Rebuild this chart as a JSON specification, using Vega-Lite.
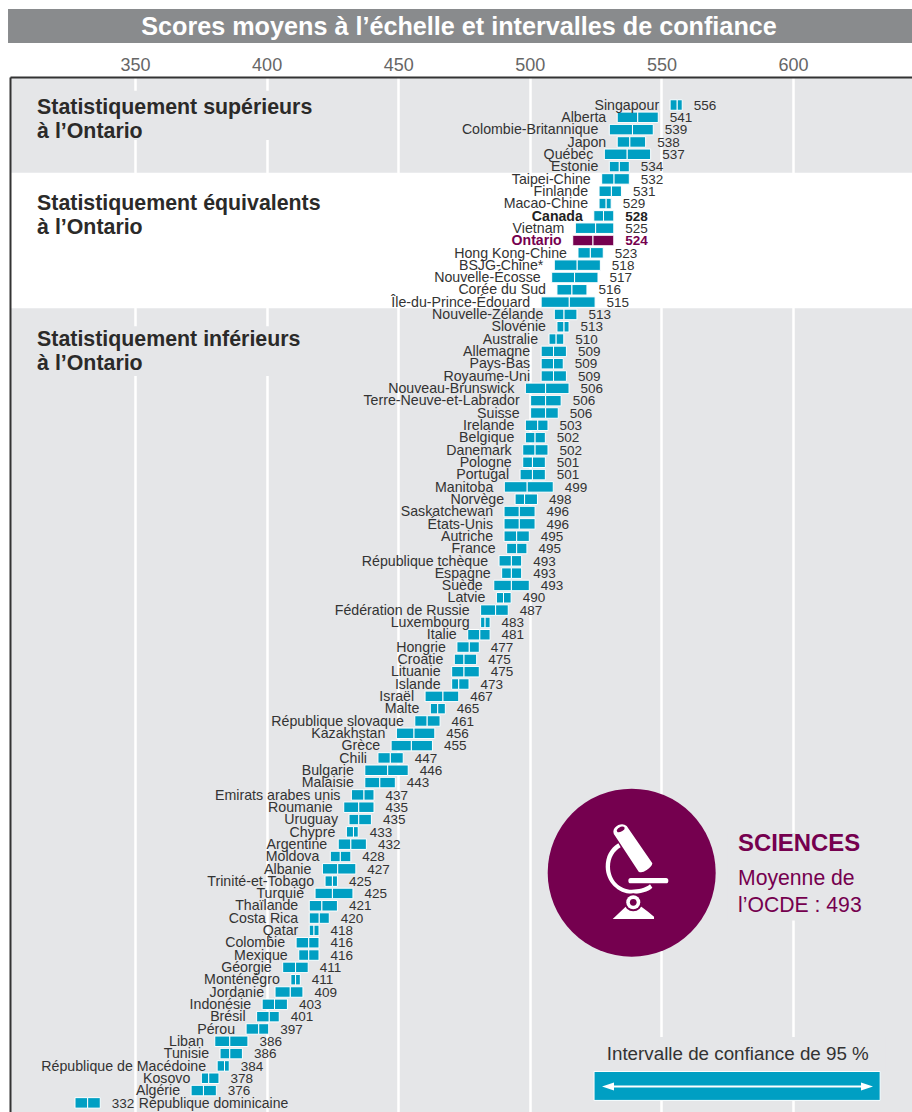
{
"$schema":"https://vega.github.io/schema/vega-lite/v6.json",
"width":902,"height":1035,
"autosize":{"type":"none"},
"padding":{"left":10,"top":77,"right":0,"bottom":0},
"background":"white",
"view":{"fill":"#e5e6e8","stroke":null},
"config":{"font":"Liberation Sans"},
"title":{"text":"Scores moyens à l’échelle et intervalles de confiance","font":"Liberation Sans","fontSize":25.2,"fontWeight":"bold","color":"white","anchor":"middle","frame":"group","offset":-31,"dx":-2},
"datasets":{
"pays":[
{"rang":1,"pays":"Singapour","score":556,"bas":553.3,"haut":557.9},
{"rang":2,"pays":"Alberta","score":541,"bas":533.2,"haut":548.8},
{"rang":3,"pays":"Colombie-Britannique","score":539,"bas":530.2,"haut":546.9},
{"rang":4,"pays":"Japon","score":538,"bas":533.2,"haut":544.0},
{"rang":5,"pays":"Québec","score":537,"bas":528.3,"haut":545.9},
{"rang":6,"pays":"Estonie","score":534,"bas":530.2,"haut":537.8},
{"rang":7,"pays":"Taipei-Chine","score":532,"bas":527.3,"haut":537.8},
{"rang":8,"pays":"Finlande","score":531,"bas":526.3,"haut":534.8},
{"rang":9,"pays":"Macao-Chine","score":529,"bas":526.3,"haut":530.9},
{"rang":10,"pays":"Canada","score":528,"bas":524.3,"haut":531.9},
{"rang":11,"pays":"Vietnam","score":525,"bas":517.3,"haut":531.9},
{"rang":12,"pays":"Ontario","score":524,"bas":516.3,"haut":531.9},
{"rang":13,"pays":"Hong Kong-Chine","score":523,"bas":518.3,"haut":527.9},
{"rang":14,"pays":"BSJG-Chine*","score":518,"bas":509.3,"haut":526.8},
{"rang":15,"pays":"Nouvelle-Écosse","score":517,"bas":508.3,"haut":525.9},
{"rang":16,"pays":"Corée du Sud","score":516,"bas":510.3,"haut":521.7},
{"rang":17,"pays":"Île-du-Prince-Édouard","score":515,"bas":504.3,"haut":524.8},
{"rang":18,"pays":"Nouvelle-Zélande","score":513,"bas":509.3,"haut":517.9},
{"rang":19,"pays":"Slovénie","score":513,"bas":510.3,"haut":514.9},
{"rang":20,"pays":"Australie","score":510,"bas":507.3,"haut":512.9},
{"rang":21,"pays":"Allemagne","score":509,"bas":504.3,"haut":513.9},
{"rang":22,"pays":"Pays-Bas","score":509,"bas":504.3,"haut":512.7},
{"rang":23,"pays":"Royaume-Uni","score":509,"bas":504.3,"haut":513.9},
{"rang":24,"pays":"Nouveau-Brunswick","score":506,"bas":498.3,"haut":514.9},
{"rang":25,"pays":"Terre-Neuve-et-Labrador","score":506,"bas":500.3,"haut":511.9},
{"rang":26,"pays":"Suisse","score":506,"bas":500.3,"haut":510.8},
{"rang":27,"pays":"Irelande","score":503,"bas":498.3,"haut":506.9},
{"rang":28,"pays":"Belgique","score":502,"bas":498.3,"haut":505.9},
{"rang":29,"pays":"Danemark","score":502,"bas":497.3,"haut":506.9},
{"rang":30,"pays":"Pologne","score":501,"bas":497.3,"haut":505.9},
{"rang":31,"pays":"Portugal","score":501,"bas":496.3,"haut":505.9},
{"rang":32,"pays":"Manitoba","score":499,"bas":490.3,"haut":508.9},
{"rang":33,"pays":"Norvège","score":498,"bas":494.4,"haut":502.9},
{"rang":34,"pays":"Saskatchewan","score":496,"bas":490.2,"haut":502.0},
{"rang":35,"pays":"États-Unis","score":496,"bas":490.2,"haut":502.0},
{"rang":36,"pays":"Autriche","score":495,"bas":490.2,"haut":499.8},
{"rang":37,"pays":"France","score":495,"bas":491.2,"haut":498.9},
{"rang":38,"pays":"République tchèque","score":493,"bas":488.3,"haut":496.9},
{"rang":39,"pays":"Espagne","score":493,"bas":489.3,"haut":496.9},
{"rang":40,"pays":"Suède","score":493,"bas":486.3,"haut":499.8},
{"rang":41,"pays":"Latvie","score":490,"bas":487.3,"haut":492.9},
{"rang":42,"pays":"Fédération de Russie","score":487,"bas":481.3,"haut":491.8},
{"rang":43,"pays":"Luxembourg","score":483,"bas":481.3,"haut":484.9},
{"rang":44,"pays":"Italie","score":481,"bas":476.4,"haut":484.9},
{"rang":45,"pays":"Hongrie","score":477,"bas":472.3,"haut":480.8},
{"rang":46,"pays":"Croatie","score":475,"bas":471.3,"haut":479.8},
{"rang":47,"pays":"Lituanie","score":475,"bas":470.3,"haut":480.8},
{"rang":48,"pays":"Islande","score":473,"bas":470.3,"haut":476.9},
{"rang":49,"pays":"Israël","score":467,"bas":460.2,"haut":473.0},
{"rang":50,"pays":"Malte","score":465,"bas":462.2,"haut":467.9},
{"rang":51,"pays":"République slovaque","score":461,"bas":456.3,"haut":465.9},
{"rang":52,"pays":"Kazakhstan","score":456,"bas":449.3,"haut":463.9},
{"rang":53,"pays":"Grèce","score":455,"bas":447.3,"haut":463.0},
{"rang":54,"pays":"Chili","score":447,"bas":442.3,"haut":451.9},
{"rang":55,"pays":"Bulgarie","score":446,"bas":437.3,"haut":453.8},
{"rang":56,"pays":"Malaisie","score":443,"bas":437.3,"haut":448.9},
{"rang":57,"pays":"Emirats arabes unis","score":437,"bas":432.2,"haut":440.8},
{"rang":58,"pays":"Roumanie","score":435,"bas":429.3,"haut":440.8},
{"rang":59,"pays":"Uruguay","score":435,"bas":431.3,"haut":439.8},
{"rang":60,"pays":"Chypre","score":433,"bas":430.3,"haut":434.8},
{"rang":61,"pays":"Argentine","score":432,"bas":427.2,"haut":437.9},
{"rang":62,"pays":"Moldova","score":428,"bas":424.2,"haut":432.0},
{"rang":63,"pays":"Albanie","score":427,"bas":421.2,"haut":433.9},
{"rang":64,"pays":"Trinité-et-Tobago","score":425,"bas":422.2,"haut":426.9},
{"rang":65,"pays":"Turquie","score":425,"bas":418.4,"haut":432.8},
{"rang":66,"pays":"Thaïlande","score":421,"bas":416.2,"haut":426.9},
{"rang":67,"pays":"Costa Rica","score":420,"bas":416.2,"haut":423.8},
{"rang":68,"pays":"Qatar","score":418,"bas":416.2,"haut":419.9},
{"rang":69,"pays":"Colombie","score":416,"bas":411.2,"haut":419.9},
{"rang":70,"pays":"Mexique","score":416,"bas":412.2,"haut":419.9},
{"rang":71,"pays":"Géorgie","score":411,"bas":406.1,"haut":415.8},
{"rang":72,"pays":"Monténégro","score":411,"bas":409.2,"haut":412.8},
{"rang":73,"pays":"Jordanie","score":409,"bas":403.2,"haut":413.8},
{"rang":74,"pays":"Indonésie","score":403,"bas":398.3,"haut":407.9},
{"rang":75,"pays":"Brésil","score":401,"bas":396.2,"haut":404.8},
{"rang":76,"pays":"Pérou","score":397,"bas":392.2,"haut":400.8},
{"rang":77,"pays":"Liban","score":386,"bas":380.3,"haut":392.9},
{"rang":78,"pays":"Tunisie","score":386,"bas":382.3,"haut":390.8},
{"rang":79,"pays":"République de Macédoine","score":384,"bas":381.2,"haut":385.8},
{"rang":80,"pays":"Kosovo","score":378,"bas":375.2,"haut":381.9},
{"rang":81,"pays":"Algérie","score":376,"bas":371.3,"haut":380.9},
{"rang":82,"pays":"République dominicaine","score":332,"bas":327.2,"haut":336.8}
],
"zones":[
{"nom":"équivalents","xa":302.5,"xb":645.2,"ra":6.5,"rb":17.5,"couleur":"blanc"},
{"nom":"masque supérieurs","xa":306,"xb":420,"ra":-0.15,"rb":3.85,"couleur":"gris"},
{"nom":"masque inférieurs","xa":306,"xb":420,"ra":18.95,"rb":23,"couleur":"gris"},
{"nom":"masque sciences","xa":575,"xb":625,"ra":60.1,"rb":67.2,"couleur":"gris"},
{"nom":"masque légende","xa":522.9,"xb":635,"ra":76.65,"rb":79.45,"couleur":"gris"},
{"nom":"masque 500","xa":498,"xb":503,"ra":33.5,"rb":41,"couleur":"gris"}
],
"groupes":[
{"texte":"Statistiquement supérieurs\nà l’Ontario","x":312.8,"rang":1.73},
{"texte":"Statistiquement équivalents\nà l’Ontario","x":312.8,"rang":9.52},
{"texte":"Statistiquement inférieurs\nà l’Ontario","x":312.8,"rang":20.56}
],
"icone":[{"x":538.7,"rang":63.31}],
"pivot":[{"x":539.3,"rang":65.72}]
},
"layer":[
{"data":{"name":"zones"},
 "mark":{"type":"rect","strokeWidth":0},
 "encoding":{
  "x":{"field":"xa","type":"quantitative","scale":{"domain":[302.5,645.2],"nice":false,"zero":false,"padding":0},
   "axis":{"orient":"top","title":null,"values":[350,400,450,500,550,600],"grid":true,"gridColor":"white","gridWidth":2.5,"gridOpacity":1,"ticks":false,"labelFont":"Liberation Sans","labelFontSize":18,"labelColor":"#666666","labelPadding":3,"domain":true,"domainColor":"#333333","domainWidth":2,"zindex":0}},
  "x2":{"field":"xb"},
  "y":{"field":"ra","type":"quantitative","scale":{"domain":[-1.273,82.74],"nice":false,"zero":false,"reverse":true,"padding":0},
   "axis":{"title":null,"labels":false,"ticks":false,"grid":false,"domain":true,"domainColor":"#333333","domainWidth":2,"zindex":1}},
  "y2":{"field":"rb"},
  "color":{"field":"couleur","type":"nominal","scale":{"domain":["blanc","gris"],"range":["#ffffff","#e5e6e8"]},"legend":null}
 }},
{"data":{"values":[{"xa":301.75,"xb":645.2,"ra":-6.79,"rb":-4.03,"bande":"titre"}]},
 "mark":{"type":"rect","color":"#898b8d","strokeWidth":0},
 "encoding":{"x":{"field":"xa","type":"quantitative"},"x2":{"field":"xb"},"y":{"field":"ra","type":"quantitative"},"y2":{"field":"rb"}}},
{"data":{"name":"pays"},
 "mark":{"type":"bar","size":10.5,"stroke":"white","strokeWidth":1},
 "encoding":{"x":{"field":"bas","type":"quantitative"},"x2":{"field":"score"},"y":{"field":"rang","type":"quantitative"},
  "color":{"condition":{"test":"datum.pays==='Ontario'","value":"#75004f"},"value":"#009fc3"}}},
{"data":{"name":"pays"},
 "mark":{"type":"bar","size":10.5,"stroke":"white","strokeWidth":1},
 "encoding":{"x":{"field":"score","type":"quantitative"},"x2":{"field":"haut"},"y":{"field":"rang","type":"quantitative"},
  "color":{"condition":{"test":"datum.pays==='Ontario'","value":"#75004f"},"value":"#009fc3"}}},
{"data":{"name":"pays"},
 "transform":[{"filter":"datum.rang<82 && datum.pays!=='Canada' && datum.pays!=='Ontario'"}],
 "mark":{"type":"text","align":"right","baseline":"middle","dx":-11,"dy":0.7,"fontSize":14.2,"color":"#333333","font":"Liberation Sans"},
 "encoding":{"x":{"field":"bas","type":"quantitative"},"y":{"field":"rang","type":"quantitative"},"text":{"field":"pays"}}},
{"data":{"name":"pays"},
 "transform":[{"filter":"datum.pays!=='Canada' && datum.pays!=='Ontario'"}],
 "mark":{"type":"text","align":"left","baseline":"middle","dx":11.5,"dy":0.7,"fontSize":13.5,"color":"#333333","font":"Liberation Sans"},
 "encoding":{"x":{"field":"haut","type":"quantitative"},"y":{"field":"rang","type":"quantitative"},"text":{"field":"score"}}},
{"data":{"name":"pays"},
 "transform":[{"filter":"datum.rang===82"}],
 "mark":{"type":"text","align":"left","baseline":"middle","dx":38.5,"dy":0.7,"fontSize":14,"color":"#333333","font":"Liberation Sans"},
 "encoding":{"x":{"field":"haut","type":"quantitative"},"y":{"field":"rang","type":"quantitative"},"text":{"field":"pays"}}},
{"data":{"name":"pays"},
 "transform":[{"filter":"datum.pays==='Canada' || datum.pays==='Ontario'"}],
 "mark":{"type":"text","align":"right","baseline":"middle","dx":-11,"dy":0.7,"fontSize":14.1,"fontWeight":"bold","font":"Liberation Sans"},
 "encoding":{"x":{"field":"bas","type":"quantitative"},"y":{"field":"rang","type":"quantitative"},"text":{"field":"pays"},
  "color":{"condition":{"test":"datum.pays==='Ontario'","value":"#75004f"},"value":"#222222"}}},
{"data":{"name":"pays"},
 "transform":[{"filter":"datum.pays==='Canada' || datum.pays==='Ontario'"}],
 "mark":{"type":"text","align":"left","baseline":"middle","dx":11.5,"dy":0.7,"fontSize":13.5,"fontWeight":"bold","font":"Liberation Sans"},
 "encoding":{"x":{"field":"haut","type":"quantitative"},"y":{"field":"rang","type":"quantitative"},"text":{"field":"score"},
  "color":{"condition":{"test":"datum.pays==='Ontario'","value":"#75004f"},"value":"#222222"}}},
{"data":{"name":"groupes"},
 "mark":{"type":"text","align":"left","baseline":"alphabetic","fontSize":21.35,"fontWeight":"bold","color":"#2b2a29","lineBreak":"\n","lineHeight":24,"font":"Liberation Sans"},
 "encoding":{"x":{"field":"x","type":"quantitative"},"y":{"field":"rang","type":"quantitative"},"text":{"field":"texte"}}},
{"data":{"name":"icone"},
 "mark":{"type":"point","shape":"circle","filled":true,"size":28224,"color":"#75004f","opacity":1,"strokeWidth":0},
 "encoding":{"x":{"field":"x","type":"quantitative"},"y":{"field":"rang","type":"quantitative"}}},
{"data":{"name":"icone"},
 "mark":{"type":"point","filled":true,"size":0.4444,"color":"white","opacity":1,"strokeWidth":0,
  "shape":"M-55,-123 Q-55,-135 -40,-143 Q-25,-149 -15,-140 L62,-28 Q61,-18 45,-8 Q30,3 21,-3 L-50,-111 Q-55,-117 -55,-123 Z M-40,-88 C-65,-73 -78,-48 -78,-18 C-78,27 -40,63 0,63 C25,63 50,57 62,45 L55,35 C40,47 20,51 0,51 C-35,51 -65,22 -65,-18 C-65,-43 -53,-65 -33,-76 Z M-3,16 L103,16 Q110,16 110,24 Q110,32 103,32 L-3,32 Q-10,32 -10,24 Q-10,16 -3,16 Z M-57,139 L-15,99 L25,99 Q50,117 67,132 L67,139 Z"},
 "encoding":{"x":{"field":"x","type":"quantitative"},"y":{"field":"rang","type":"quantitative"}}},
{"data":{"name":"icone"},
 "mark":{"type":"point","filled":true,"size":0.4444,"color":"#75004f","opacity":1,"strokeWidth":0,
  "shape":"M-45,-127 Q-42,-135 -33,-138 Q-24,-140 -21,-135 Q-20,-129 -28,-125 Q-38,-120 -43,-122 Z"},
 "encoding":{"x":{"field":"x","type":"quantitative"},"y":{"field":"rang","type":"quantitative"}}},
{"data":{"name":"pivot"},
 "mark":{"type":"point","shape":"circle","filled":true,"size":324,"color":"#75004f","opacity":1,"strokeWidth":0},
 "encoding":{"x":{"field":"x","type":"quantitative"},"y":{"field":"rang","type":"quantitative"}}},
{"data":{"name":"pivot"},
 "mark":{"type":"point","shape":"circle","filled":true,"size":196,"color":"white","opacity":1,"strokeWidth":0},
 "encoding":{"x":{"field":"x","type":"quantitative"},"y":{"field":"rang","type":"quantitative"}}},
{"data":{"name":"pivot"},
 "mark":{"type":"point","shape":"circle","filled":true,"size":45,"color":"#75004f","opacity":1,"strokeWidth":0},
 "encoding":{"x":{"field":"x","type":"quantitative"},"y":{"field":"rang","type":"quantitative"}}},
{"data":{"values":[{"texte":"SCIENCES","x":579.1,"rang":61.55}]},
 "mark":{"type":"text","align":"left","baseline":"alphabetic","fontSize":23.9,"fontWeight":"bold","color":"#75004f","font":"Liberation Sans"},
 "encoding":{"x":{"field":"x","type":"quantitative"},"y":{"field":"rang","type":"quantitative"},"text":{"field":"texte"}}},
{"data":{"values":[{"texte":"Moyenne de","x":579.1,"rang":64.31},{"texte":"l’OCDE : 493","x":579.1,"rang":66.53}]},
 "mark":{"type":"text","align":"left","baseline":"alphabetic","fontSize":21.2,"color":"#75004f","font":"Liberation Sans"},
 "encoding":{"x":{"field":"x","type":"quantitative"},"y":{"field":"rang","type":"quantitative"},"text":{"field":"texte"}}},
{"data":{"values":[{"texte":"Intervalle de confiance de 95 %","x":579,"rang":78.5}]},
 "mark":{"type":"text","align":"center","baseline":"alphabetic","fontSize":18.8,"color":"#333333","font":"Liberation Sans"},
 "encoding":{"x":{"field":"x","type":"quantitative"},"y":{"field":"rang","type":"quantitative"},"text":{"field":"texte"}}},
{"data":{"values":[{"xa":524.4,"xb":633.1,"ra":79.45,"rb":81.8}]},
 "mark":{"type":"rect","color":"#009fc3","stroke":"white","strokeWidth":1},
 "encoding":{"x":{"field":"xa","type":"quantitative"},"x2":{"field":"xb"},"y":{"field":"ra","type":"quantitative"},"y2":{"field":"rb"}}},
{"data":{"values":[{"xa":531.2,"xb":627.4,"rang":80.67}]},
 "mark":{"type":"rule","color":"white","strokeWidth":2},
 "encoding":{"x":{"field":"xa","type":"quantitative"},"x2":{"field":"xb"},"y":{"field":"rang","type":"quantitative"}}},
{"data":{"values":[{"x":529.7,"rang":80.67}]},
 "mark":{"type":"point","filled":true,"size":400,"color":"white","opacity":1,"strokeWidth":0,"shape":"M-0.6,0 L0.6,-0.4 L0.6,0.4 Z"},
 "encoding":{"x":{"field":"x","type":"quantitative"},"y":{"field":"rang","type":"quantitative"}}},
{"data":{"values":[{"x":628.1,"rang":80.67}]},
 "mark":{"type":"point","filled":true,"size":400,"color":"white","opacity":1,"strokeWidth":0,"shape":"M0.6,0 L-0.6,-0.4 L-0.6,0.4 Z"},
 "encoding":{"x":{"field":"x","type":"quantitative"},"y":{"field":"rang","type":"quantitative"}}}
]
}
